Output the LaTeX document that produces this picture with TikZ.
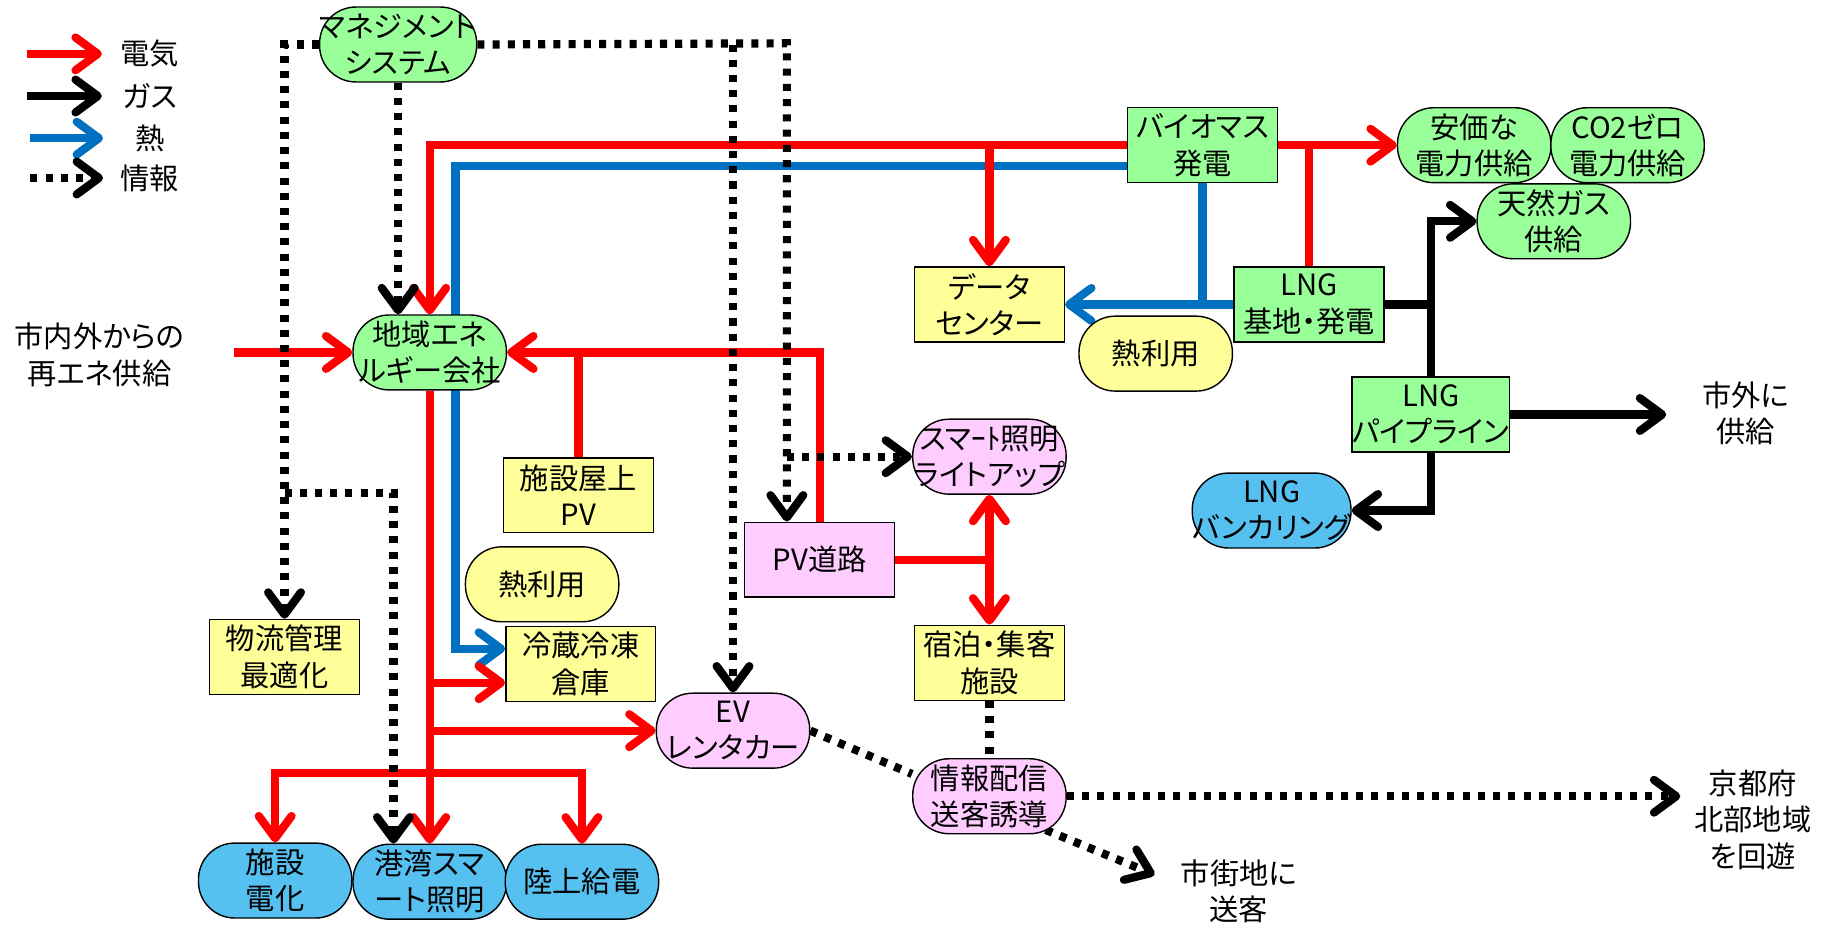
\documentclass[tikz,border=0pt]{standalone}
\usepackage{fontspec}
\setmainfont{Noto Sans CJK JP}[RawFeature=+palt]
\usetikzlibrary{arrows.meta,backgrounds}
\definecolor{nodegreen}{RGB}{153,255,153}
\definecolor{nodeyellow}{RGB}{255,255,153}
\definecolor{nodepink}{RGB}{255,204,255}
\definecolor{nodeblue}{RGB}{86,193,240}
\definecolor{heatblue}{RGB}{0,112,192}

\begin{document}
\begin{tikzpicture}[x=1pt,y=-1pt,
    >={Straight Barb[length=19pt,width=28pt,round]},
    every node/.style={font=\fontsize{25}{31}\selectfont,align=center},
    box/.style={draw,line width=1.2pt,inner sep=0pt,minimum width=128pt,minimum height=64pt},
    pill/.style={box,rounded corners=31pt,minimum width=131pt},
    elec/.style={draw=red,line width=7pt},
    gas/.style={draw=black,line width=7pt},
    heat/.style={draw=heatblue,line width=7pt},
    info/.style={draw=black,line width=7pt,dash pattern=on 6pt off 7pt}]
  \useasboundingbox (0,0) rectangle (1568,796);

  \coordinate (kE) at (23,46);
  \coordinate (kG) at (23,82);
  \coordinate (kH) at (26,118);
  \coordinate (kI) at (26,152);
  \draw[elec,->] (kE) -- ++(64,0);
  \draw[gas,->] (kG) -- ++(64,0);
  \draw[heat,->] (kH) -- ++(62,0);
  \draw[info,->] (kI) -- ++(62,0);
  \node (legE) at (128,46) {電気};
  \node (legG) at (128,82) {ガス};
  \node (legH) at (128,118) {熱};
  \node (legI) at (128,152) {情報};

  \node[pill,fill=nodegreen] (mgmt) at (340,38) {マネジメント\\システム};
  \node[pill,fill=nodegreen] (region) at (367,301) {地域エネ\\ルギー会社};
  \node (src) at (85,303) {市内外からの\\再エネ供給};
  \node[box,fill=nodeyellow] (roofpv) at (494,423) {施設屋上\\PV};
  \node[pill,fill=nodeyellow] (heatL) at (463,499) {熱利用};
  \node[box,fill=nodeyellow] (cold) at (496,567) {冷蔵冷凍\\倉庫};
  \node[box,fill=nodeyellow] (logi) at (243,561) {物流管理\\最適化};
  \node[pill,fill=nodepink] (ev) at (626,624) {EV\\レンタカー};
  \node[pill,fill=nodeblue] (fac) at (235,752) {施設\\電化};
  \node[pill,fill=nodeblue] (harbor) at (367,753) {港湾スマ\\ート照明};
  \node[pill,fill=nodeblue] (shore) at (497,753) {陸上給電};
  \node[box,fill=nodepink] (pvroad) at (700,478) {PV道路};
  \node[pill,fill=nodepink] (smart) at (845,390) {スマｰﾄ照明\\ライトアップ};
  \node[box,fill=nodeyellow] (stay) at (845,566) {宿泊・集客\\施設};
  \node[pill,fill=nodepink] (info) at (845,680) {情報配信\\送客誘導};
  \node (city) at (1058,761) {市街地に\\送客};
  \node (north) at (1497,700) {京都府\\北部地域\\を回遊};
  \node[box,fill=nodeyellow] (dc) at (845,260) {データ\\センター};
  \node[pill,fill=nodeyellow] (heatR) at (987,302) {熱利用};
  \node[box,fill=nodegreen] (bio) at (1027,124) {バイオマス\\発電};
  \node[box,fill=nodegreen] (lngb) at (1118,260) {LNG\\基地・発電};
  \node[pill,fill=nodegreen] (cheap) at (1259,124) {安価な\\電力供給};
  \node[pill,fill=nodegreen] (co2) at (1390,124) {CO2ゼロ\\電力供給};
  \node[pill,fill=nodegreen] (ngas) at (1327,189) {天然ガス\\供給};
  \node[box,fill=nodegreen] (pipe) at (1222,354) {LNG\\パイプライン};
  \node (out) at (1491,353) {市外に\\供給};
  \node[pill,fill=nodeblue] (bunk) at (1086,436) {LNG\\バンカリング};

  \coordinate (srcIn) at (200,301);
  \coordinate (bioB) at (966,142);
  \coordinate (heatX) at (389,142);
  \coordinate (coldB) at ([yshift=13pt]cold.west);
  \coordinate (coldR) at ([yshift=-16pt]cold.west);
  \coordinate (split) at (367,660);
  \coordinate (infoL) at (243,421);
  \coordinate (infoR) at (672,37);
  \coordinate (outTip) at (1423,354);
  \coordinate (northTip) at (1435,680);
  \coordinate (cityTip) at (986,747);

  \begin{scope}[on background layer]
    \draw[heat,->] (bioB) -- (heatX) |- (coldB);
    \draw[heat,->] (lngb.west) -- (dc.east);
    \draw[heat] (bio.south) -- (bio.south |- lngb.west);
    \draw[elec,->] (srcIn) -- (region.west);
    \draw[elec,->] (bio.west) -| (region.north);
    \draw[elec,->] (bio.west -| dc.north) -- (dc.north);
    \draw[elec,->] (bio.east) -- (cheap.west);
    \draw[elec] (lngb.north) -- (lngb.north |- bio.east);
    \draw[elec,->] (pvroad.north) |- (region.east);
    \draw[elec] (roofpv.north) -- (roofpv.north |- region.east);
    \draw[elec,->] (region.south) -- (harbor.north);
    \draw[elec,->] (region.south |- coldR) -- (coldR);
    \draw[elec,->] (region.south |- ev.west) -- (ev.west);
    \draw[elec,->] (split) -| (fac.north);
    \draw[elec,->] (split) -| (shore.north);
    \draw[elec,->] (pvroad.east -| smart.south) -- (smart.south);
    \draw[elec,->] (pvroad.east) -| (stay.north);
    \draw[gas] (lngb.east) -| (pipe.north);
    \draw[gas,->] (pipe.north |- lngb.east) |- (ngas.west);
    \draw[gas,->] (pipe.east) -- (outTip);
    \draw[gas,->] (pipe.south) |- (bunk.east);
    \draw[info,->] (mgmt.south) -- (mgmt.south |- region.north);
    \draw[info,->] (mgmt.west) -| (logi.north);
    \draw[info,->] (infoL) -| ([xshift=-31pt]harbor.north);
    \draw[info,->] (mgmt.east) -- (infoR) -- (infoR |- pvroad.north);
    \draw[info,->] (mgmt.east -| ev.north) -- (ev.north);
    \draw[info,->] (infoR |- smart.west) -- (smart.west);
    \draw[info] (ev.east) -- ([yshift=19pt]info.west);
    \draw[info] (stay.south) -- (info.north);
    \draw[info,->] (info.east) -- (northTip);
    \draw[info,->] ([yshift=-9pt]info.center) -- (cityTip);
  \end{scope}
\end{tikzpicture}
\end{document}
